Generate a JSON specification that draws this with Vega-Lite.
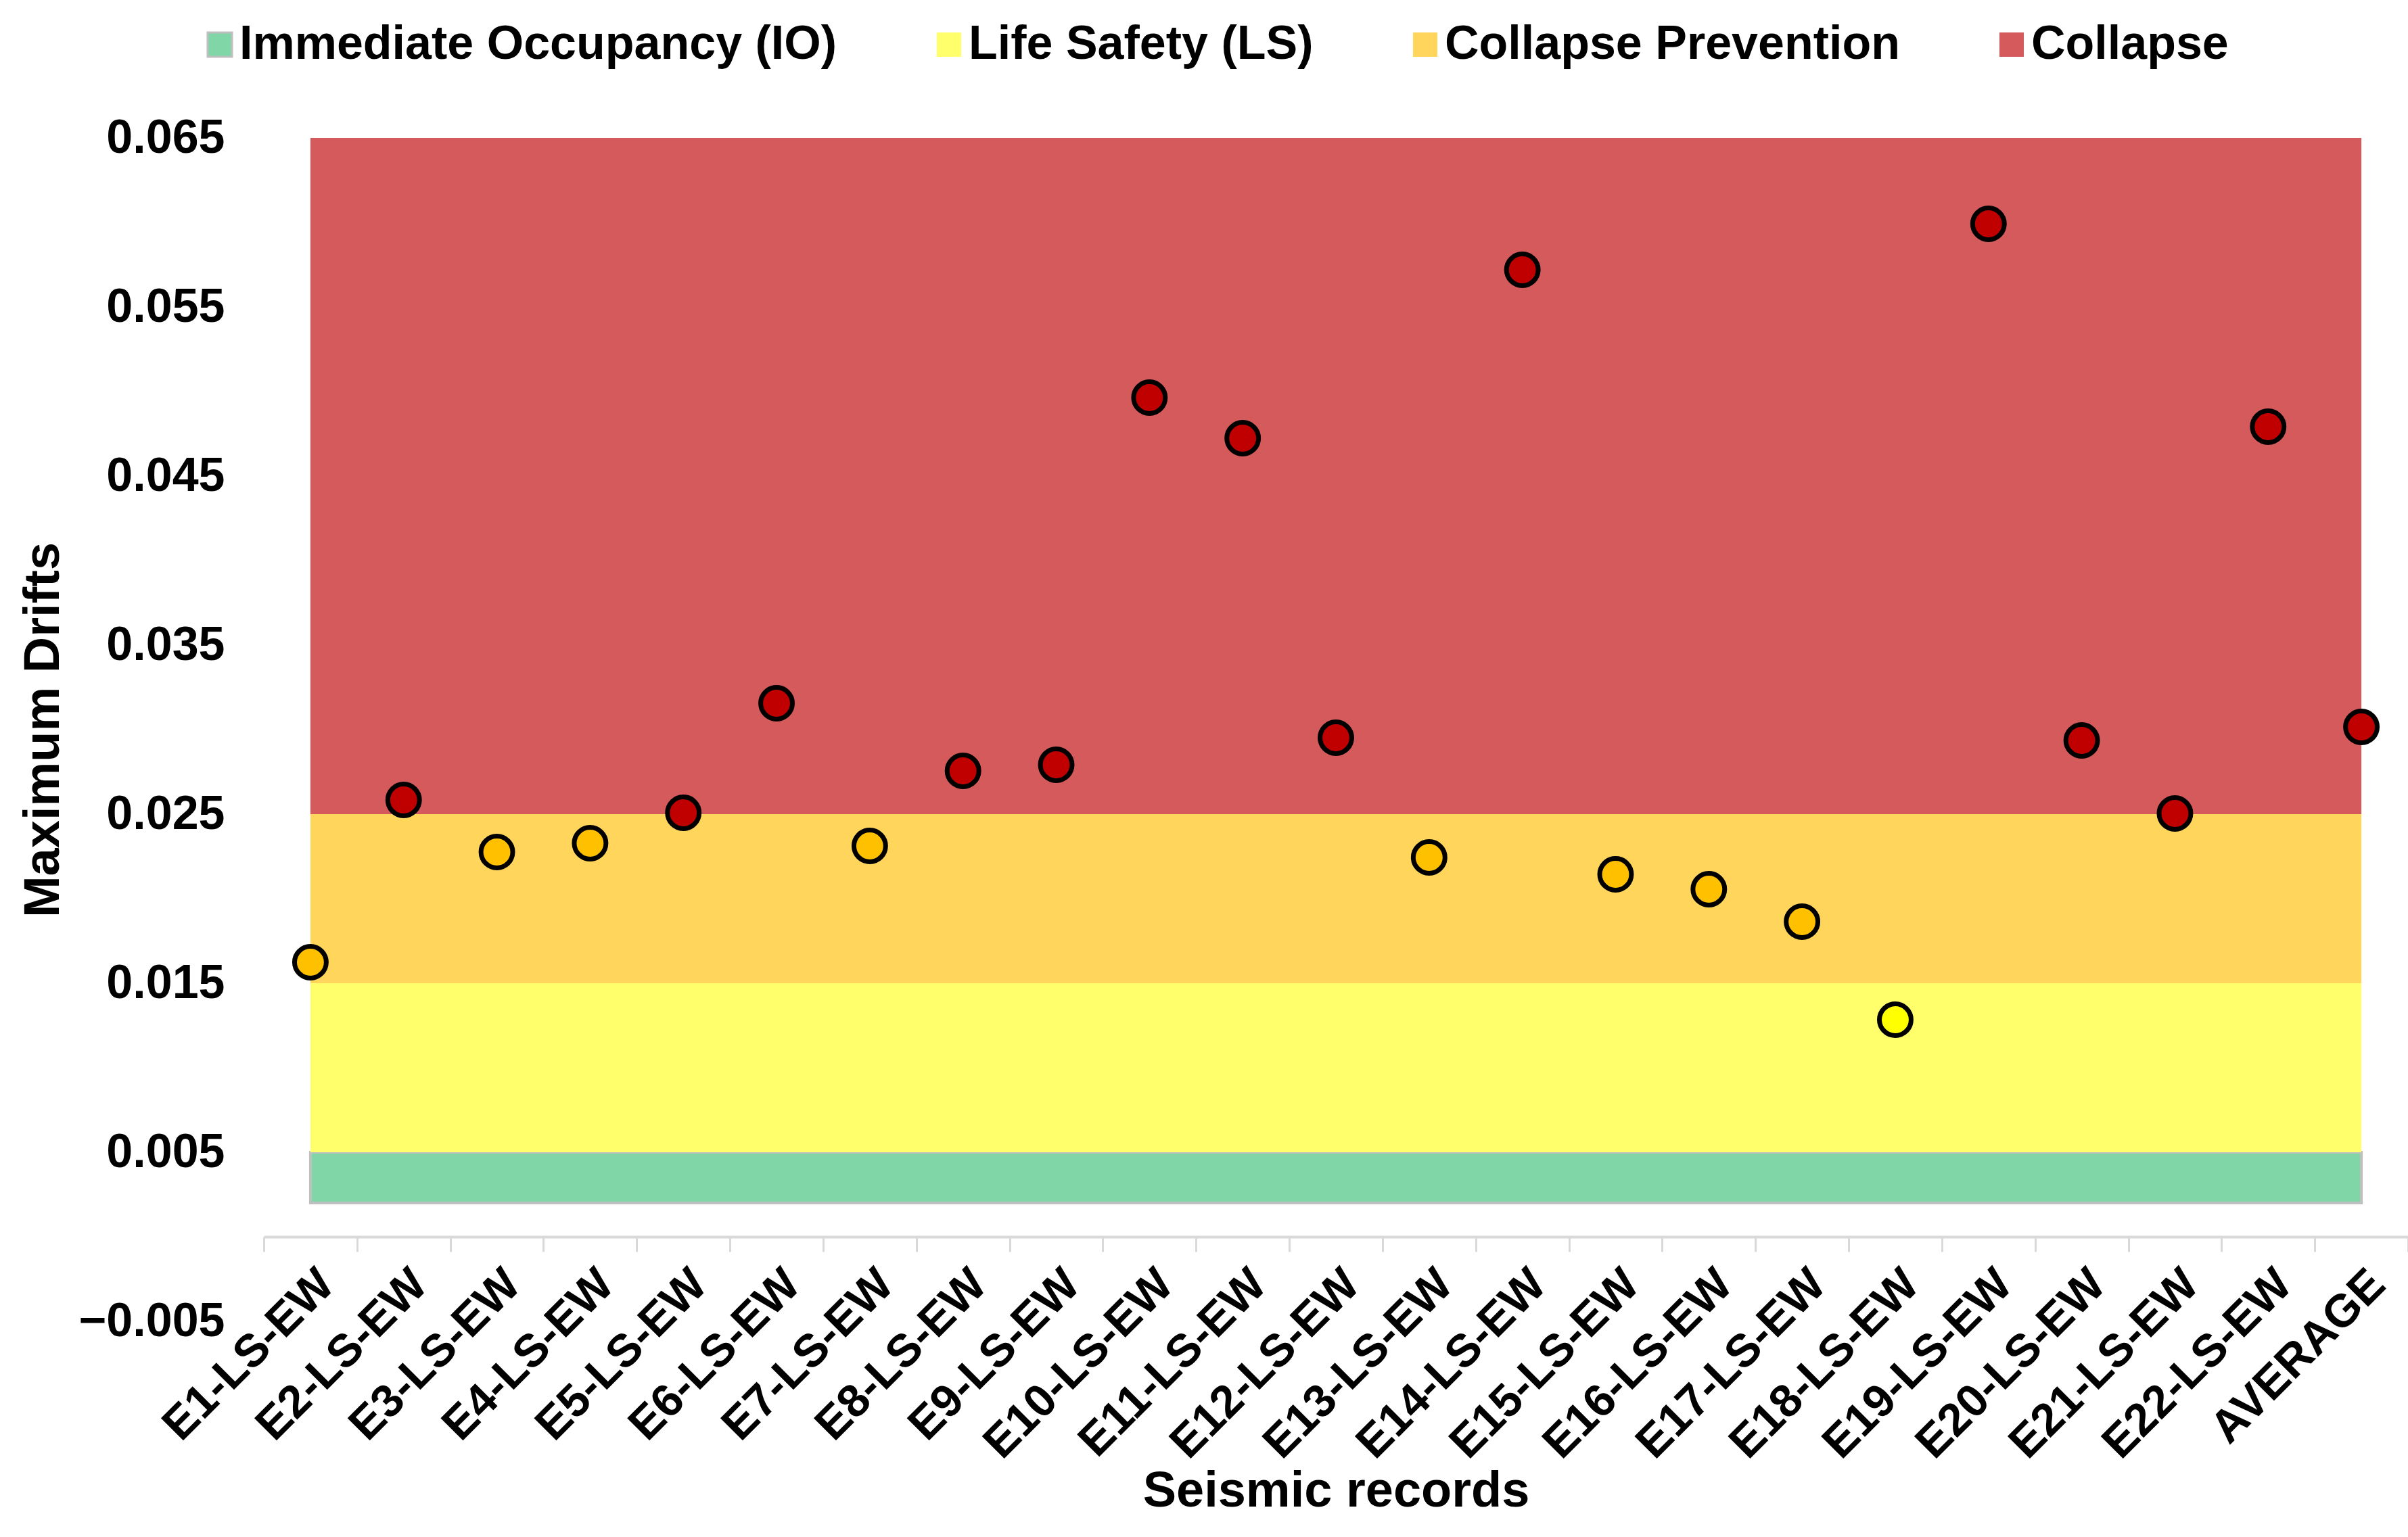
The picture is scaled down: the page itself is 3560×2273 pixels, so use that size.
{
  "$schema": "https://vega.github.io/schema/vega-lite/v6.json",
  "autosize": {"type": "none"},
  "padding": {"left": 390, "top": 204, "right": 0, "bottom": 319},
  "width": 3170,
  "height": 1750,
  "background": "white",
  "config": {
    "view": {"stroke": null},
    "font": "Liberation Sans",
    "axis": {"labelFont": "Liberation Sans", "titleFont": "Liberation Sans", "labelColor": "black", "titleColor": "black", "labelLimit": 0},
    "legend": {"labelFont": "Liberation Sans", "labelLimit": 0}
  },
  "layer": [
    {
      "data": {
        "values": [
          {"zone": "Immediate Occupancy (IO)", "record": "E1-LS-EW", "lo": 0.002, "hi": 0.005},
          {"zone": "Immediate Occupancy (IO)", "record": "AVERAGE", "lo": 0.002, "hi": 0.005},
          {"zone": "Life Safety (LS)", "record": "E1-LS-EW", "lo": 0.005, "hi": 0.015},
          {"zone": "Life Safety (LS)", "record": "AVERAGE", "lo": 0.005, "hi": 0.015},
          {"zone": "Collapse Prevention", "record": "E1-LS-EW", "lo": 0.015, "hi": 0.025},
          {"zone": "Collapse Prevention", "record": "AVERAGE", "lo": 0.015, "hi": 0.025},
          {"zone": "Collapse", "record": "E1-LS-EW", "lo": 0.025, "hi": 0.065},
          {"zone": "Collapse", "record": "AVERAGE", "lo": 0.025, "hi": 0.065}
        ]
      },
      "mark": {"type": "area", "strokeWidth": 4, "opacity": 1},
      "encoding": {
        "x": {
          "field": "record",
          "type": "nominal",
          "sort": null,
          "scale": {
            "domain": ["E1-LS-EW", "E2-LS-EW", "E3-LS-EW", "E4-LS-EW", "E5-LS-EW", "E6-LS-EW", "E7-LS-EW", "E8-LS-EW", "E9-LS-EW", "E10-LS-EW", "E11-LS-EW", "E12-LS-EW", "E13-LS-EW", "E14-LS-EW", "E15-LS-EW", "E16-LS-EW", "E17-LS-EW", "E18-LS-EW", "E19-LS-EW", "E20-LS-EW", "E21-LS-EW", "E22-LS-EW", "AVERAGE"],
            "paddingInner": 0,
            "paddingOuter": 0
          },
          "axis": {
            "title": "Seismic records",
            "titleFontSize": 74,
            "titleFontWeight": "bold",
            "titleY": 340,
            "titleBaseline": "top",
            "labelAngle": -45,
            "labelFontSize": 68,
            "labelFontWeight": "bold",
            "labelPadding": 14,
            "labelLimit": 0,
            "tickBand": "extent",
            "tickSize": 22,
            "tickWidth": 3,
            "tickColor": "#d9d9d9",
            "domainColor": "#d9d9d9",
            "domainWidth": 4,
            "offset": -125,
            "grid": false
          }
        },
        "y": {
          "field": "hi",
          "type": "quantitative",
          "scale": {"domain": [-0.005, 0.065], "nice": false, "zero": false},
          "axis": {
            "title": "Maximum Drifts",
            "titleFontSize": 74,
            "titleFontWeight": "bold",
            "titlePadding": 88,
            "values": [-0.005, 0.005, 0.015, 0.025, 0.035, 0.045, 0.055, 0.065],
            "format": ".3f",
            "labelFontSize": 70,
            "labelFontWeight": "bold",
            "labelPadding": 58,
            "labelLimit": 0,
            "domain": false,
            "ticks": false,
            "grid": false
          }
        },
        "y2": {"field": "lo"},
        "color": {
          "field": "zone",
          "type": "nominal",
          "scale": {
            "domain": ["Immediate Occupancy (IO)", "Life Safety (LS)", "Collapse Prevention", "Collapse"],
            "range": ["#80d6a6", "#ffff6b", "#ffd55b", "#d55a5b"]
          },
          "legend": {
            "title": null,
            "orient": "none",
            "direction": "horizontal",
            "legendX": -100,
            "legendY": -173,
            "symbolType": "square",
            "symbolSize": 1300,
            "symbolStrokeWidth": 3,
            "labelFontSize": 70,
            "labelFontWeight": "bold",
            "labelColor": "black",
            "labelLimit": 0,
            "labelOffset": -6,
            "columnPadding": 130,
            "padding": 0
          }
        },
        "stroke": {
          "field": "zone",
          "type": "nominal",
          "scale": {
            "domain": ["Immediate Occupancy (IO)", "Life Safety (LS)", "Collapse Prevention", "Collapse"],
            "range": ["#bfbfbf", "transparent", "transparent", "transparent"]
          },
          "legend": {
            "title": null,
            "orient": "none",
            "direction": "horizontal",
            "legendX": -100,
            "legendY": -173,
            "symbolType": "square",
            "symbolSize": 1300,
            "symbolStrokeWidth": 3,
            "labelFontSize": 70,
            "labelFontWeight": "bold",
            "labelColor": "black",
            "labelLimit": 0,
            "labelOffset": -6,
            "columnPadding": 130,
            "padding": 0
          }
        }
      }
    },
    {
      "data": {
        "values": [
          {"record": "E1-LS-EW", "drift": 0.01624, "zone": "Collapse Prevention"},
          {"record": "E2-LS-EW", "drift": 0.02584, "zone": "Collapse"},
          {"record": "E3-LS-EW", "drift": 0.02276, "zone": "Collapse Prevention"},
          {"record": "E4-LS-EW", "drift": 0.02328, "zone": "Collapse Prevention"},
          {"record": "E5-LS-EW", "drift": 0.02508, "zone": "Collapse"},
          {"record": "E6-LS-EW", "drift": 0.03156, "zone": "Collapse"},
          {"record": "E7-LS-EW", "drift": 0.02312, "zone": "Collapse Prevention"},
          {"record": "E8-LS-EW", "drift": 0.02756, "zone": "Collapse"},
          {"record": "E9-LS-EW", "drift": 0.02792, "zone": "Collapse"},
          {"record": "E10-LS-EW", "drift": 0.04964, "zone": "Collapse"},
          {"record": "E11-LS-EW", "drift": 0.04724, "zone": "Collapse"},
          {"record": "E12-LS-EW", "drift": 0.02952, "zone": "Collapse"},
          {"record": "E13-LS-EW", "drift": 0.02244, "zone": "Collapse Prevention"},
          {"record": "E14-LS-EW", "drift": 0.0572, "zone": "Collapse"},
          {"record": "E15-LS-EW", "drift": 0.02144, "zone": "Collapse Prevention"},
          {"record": "E16-LS-EW", "drift": 0.02056, "zone": "Collapse Prevention"},
          {"record": "E17-LS-EW", "drift": 0.01864, "zone": "Collapse Prevention"},
          {"record": "E18-LS-EW", "drift": 0.01284, "zone": "Life Safety (LS)"},
          {"record": "E19-LS-EW", "drift": 0.05992, "zone": "Collapse"},
          {"record": "E20-LS-EW", "drift": 0.02936, "zone": "Collapse"},
          {"record": "E21-LS-EW", "drift": 0.02504, "zone": "Collapse"},
          {"record": "E22-LS-EW", "drift": 0.04792, "zone": "Collapse"},
          {"record": "AVERAGE", "drift": 0.03016, "zone": "Collapse"}
        ]
      },
      "mark": {"type": "point", "shape": "circle", "filled": true, "size": 2200, "stroke": "black", "strokeWidth": 7, "opacity": 1},
      "encoding": {
        "x": {"field": "record", "type": "nominal", "sort": null},
        "y": {"field": "drift", "type": "quantitative"},
        "fill": {
          "field": "zone",
          "type": "nominal",
          "scale": {
            "domain": ["Life Safety (LS)", "Collapse Prevention", "Collapse"],
            "range": ["#ffff00", "#ffc000", "#c00000"]
          },
          "legend": null
        }
      }
    }
  ]
}
